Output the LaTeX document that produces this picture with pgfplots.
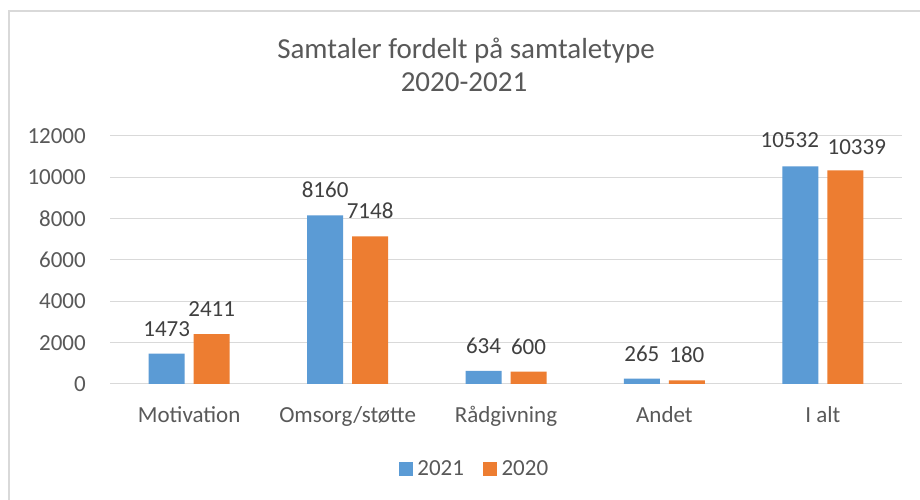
\documentclass[border=0pt]{standalone}
\usepackage{fontspec}
\setmainfont{Carlito}
\usepackage{pgfplots}
\usepackage{pgfplotstable}
\pgfplotsset{compat=1.18}
\definecolor{cblue}{HTML}{5B9BD5}
\definecolor{corange}{HTML}{ED7D31}
\definecolor{txt}{HTML}{595959}
\definecolor{lbl}{HTML}{404040}
\definecolor{gridc}{HTML}{D9D9D9}
\pgfplotstableread{
x y dx dy
0 1473 0 17.5
1 8160 0 17.5
2 634 0 17.5
3 265 0 17.5
4 10532 -10.5 19
}\dataA
\pgfplotstableread{
x y dx dy
0 2411 0 17.5
1 7148 0 17.5
2 600 0 17.5
3 180 0 17.5
4 10339 11.5 16
}\dataB
\begin{document}
\begin{tikzpicture}[x=1pt,y=1pt]
\path[use as bounding box,fill=white] (0,0) rectangle (920,500);
\draw[gridc,line width=1.5pt] (9,0) -- (9,489) -- (920,489);
\node[anchor=base,text=txt,font=\fontsize{29}{34}\selectfont] at (466,441.7) {Samtaler fordelt på samtaletype};
\node[anchor=base,text=txt,font=\fontsize{29}{34}\selectfont] at (464,408.3) {2020-2021};
\begin{axis}[
  at={(110pt,116pt)}, anchor=south west,
  scale only axis, width=792pt, height=248pt,
  ybar=9pt, bar width=36pt,
  xmin=-0.5, xmax=4.5, ymin=0, ymax=12000,
  xtick=data,
  xticklabels={Motivation,Omsorg/støtte,Rådgivning,Andet,I alt},
  ytick={0,2000,4000,6000,8000,10000,12000},
  scaled y ticks=false,
  /pgf/number format/assume math mode=true,
  /pgf/number format/1000 sep={},
  xmajorgrids=false, ymajorgrids=true, grid style={draw=gridc,line width=1pt},
  axis line style={draw=none},
  major tick length=0pt,
  tick label style={text=txt,font=\fontsize{23}{27}\selectfont},
  xticklabel style={anchor=base,yshift=-39pt},
  yticklabel style={anchor=east,inner sep=0pt,xshift=-24pt},
  visualization depends on={\thisrow{dx} \as \dx},
  visualization depends on={\thisrow{dy} \as \dy},
  nodes near coords,
  every node near coord/.append style={anchor=base,xshift=\dx pt,yshift=\dy pt,inner sep=0pt,text=lbl,font=\fontsize{23}{27}\selectfont},
  legend columns=2,
  legend style={at={(0.459,-0.3415)},anchor=center,draw=none,fill=none,
    font=\fontsize{23}{27}\selectfont,text=txt,inner sep=0pt,
    nodes={inner sep=0pt},
    /tikz/every odd column/.append style={column sep=4.5pt},
    /tikz/every even column/.append style={column sep=19pt}},
  legend image code/.code={\fill[#1,draw=none] (0pt,-7pt) rectangle (14pt,7pt);},
]
\addplot[fill=cblue,draw=none] table[x=x,y=y] {\dataA};
\addplot[fill=corange,draw=none] table[x=x,y=y] {\dataB};
\legend{2021,2020}
\end{axis}
\end{tikzpicture}
\end{document}
